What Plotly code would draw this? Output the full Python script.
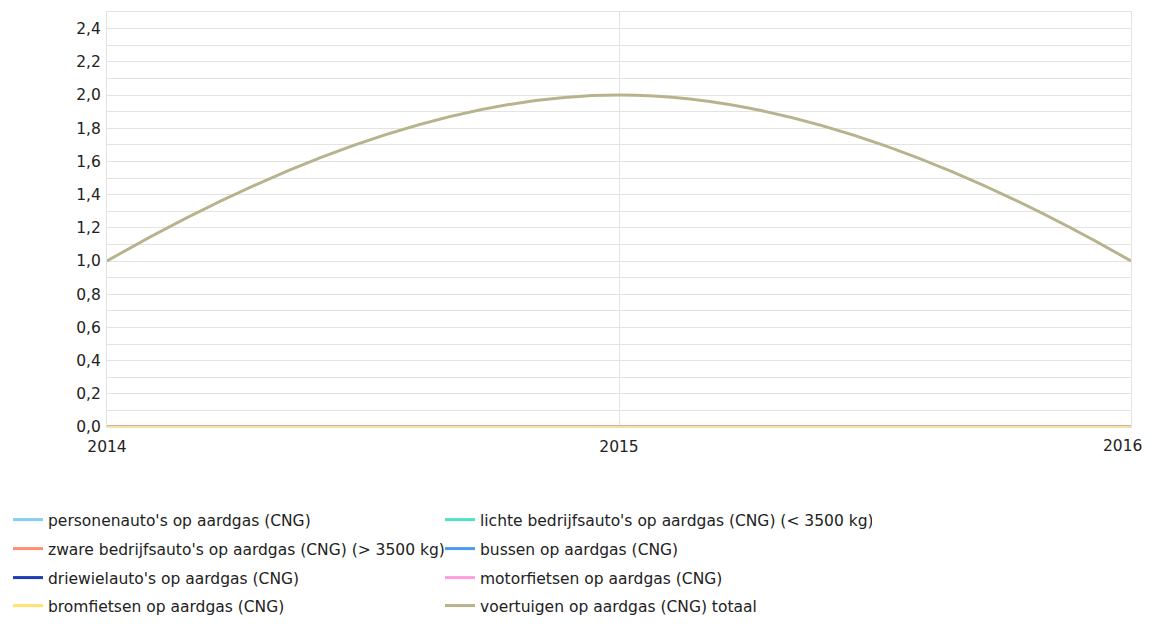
import plotly.graph_objects as go

years = [2014, 2015, 2016]
series_names = [
    "personenauto's op aardgas (CNG)",
    "lichte bedrijfsauto's op aardgas (CNG) (< 3500 kg)",
    "zware bedrijfsauto's op aardgas (CNG) (> 3500 kg)",
    "bussen op aardgas (CNG)",
    "driewielauto's op aardgas (CNG)",
    "motorfietsen op aardgas (CNG)",
    "bromfietsen op aardgas (CNG)",
    "voertuigen op aardgas (CNG) totaal",
]
personenautos = [0, 0, 0]
lichte = [0, 0, 0]
zware = [0, 0, 0]
bussen = [0, 0, 0]
driewiel = [0, 0, 0]
motorfietsen = [0, 0, 0]
bromfietsen = [0, 0, 0]
totaal = [1, 2, 1]
values = [personenautos, lichte, zware, bussen, driewiel, motorfietsen, bromfietsen, totaal]
colors = ["#86cff8", "#4fe3c4", "#ff8f70", "#4a9cf2", "#1c3db3", "#ff9fe0", "#ffe36e", "#b7b48d"]
y_ticks = [0, 0.2, 0.4, 0.6, 0.8, 1.0, 1.2, 1.4, 1.6, 1.8, 2.0, 2.2, 2.4]

W, H = 1136, 608   # page adds 8px body margin
OFF = 8
legend_ids = ["legend", "legend2", "legend3", "legend4"]
row_centers = [520, 549, 578, 606]

fig = go.Figure()
for i, (name, vals, col) in enumerate(zip(series_names, values, colors)):
    fig.add_trace(go.Scatter(
        x=years, y=vals, name=name, mode="lines",
        line=dict(color=col, width=3, shape="spline", smoothing=1.3),
        legend=legend_ids[i // 2],
    ))

font_family = "DejaVu Sans, Verdana, sans-serif"
FS = 15.5
layout_legends = {}
for lid, cy in zip(legend_ids, row_centers):
    layout_legends[lid] = dict(
        orientation="h", xref="container", yref="container",
        x=0, xanchor="left",
        y=1 - (cy - OFF) / H, yanchor="middle",
        entrywidth=387, entrywidthmode="pixels",
        font=dict(family=font_family, size=FS, color="#222222"),
        itemwidth=30, bgcolor="rgba(0,0,0,0)", borderwidth=0,
    )

fig.update_layout(
    width=W, height=H,
    margin=dict(l=107 - OFF, r=W + OFF - 1131, t=12 - OFF, b=H + OFF - 427),
    paper_bgcolor="white", plot_bgcolor="white",
    separators=", ",
    font=dict(family=font_family, size=FS, color="#222222"),
    showlegend=True,
    **layout_legends,
)
# last year label drawn as annotation so it stays inside the page edge
tick_text = [str(y) for y in years[:-1]] + [""]
fig.add_annotation(
    x=years[-1], y=0, xref="x", yref="paper", text=str(years[-1]),
    showarrow=False, xanchor="right", yanchor="top", xshift=13, yshift=-8,
    font=dict(family=font_family, size=FS, color="#222222"),
)
fig.update_xaxes(
    range=[2014, 2016], tickvals=years, ticktext=tick_text,
    showgrid=True, gridcolor="#e3e3e3", gridwidth=1,
    showline=True, linecolor="#e3e3e3", mirror=True, zeroline=False,
    ticks="", tickfont=dict(size=FS), ticklabelstandoff=5,
    automargin=False,
)
fig.update_yaxes(
    range=[0, 2.5], tickvals=y_ticks, tickformat=".1f",
    showgrid=True, gridcolor="#e3e3e3", gridwidth=1,
    minor=dict(dtick=0.1, tick0=0, showgrid=True, gridcolor="#e3e3e3"),
    showline=True, linecolor="#e3e3e3", mirror=True, zeroline=False,
    ticks="", tickfont=dict(size=FS), ticklabelstandoff=2, automargin=False,
)
fig.write_html("out.html")
